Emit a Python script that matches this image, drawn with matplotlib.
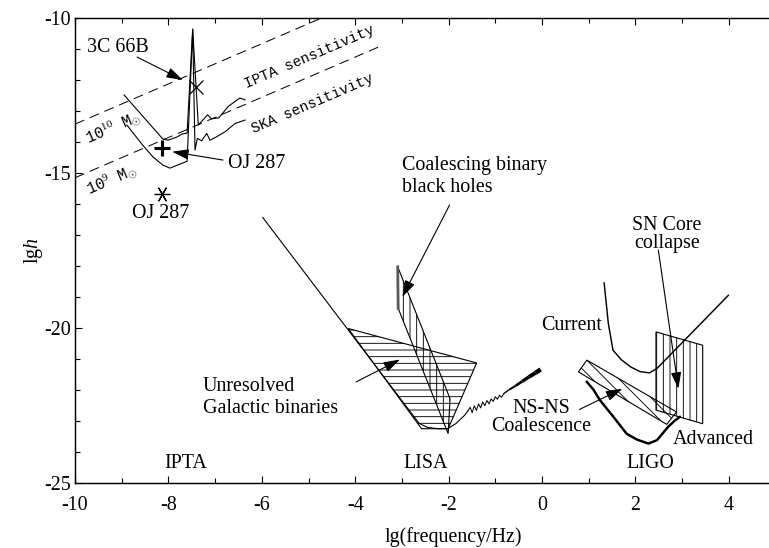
import matplotlib.pyplot as plt
from matplotlib.collections import LineCollection

plt.rcParams['font.family'] = ['Liberation Serif', 'DejaVu Serif']
plt.rcParams['mathtext.fontset'] = 'custom'
plt.rcParams['mathtext.rm'] = 'Liberation Serif'
plt.rcParams['mathtext.it'] = 'Liberation Serif:italic'
plt.rcParams['axes.unicode_minus'] = False
plt.rcParams['hatch.linewidth'] = 0.8

# ---- PTA band ----
pta_upper_x = [-8.95, -8.12, -8.01, -7.82, -7.71, -7.60, -7.48, -7.36, -7.16, -7.08, -6.92, -6.72, -6.47, -6.36]
pta_upper_y = [-12.48, -13.90, -13.94, -13.84, -13.74, -13.71, -10.36, -13.45, -13.12, -13.25, -13.22, -12.85, -12.58, -12.64]
pta_lower_x = [-8.89, -8.55, -8.33, -8.12, -7.97, -7.60, -7.48, -7.43, -7.38, -7.29, -7.18, -7.11, -6.97, -6.79, -6.57, -6.36]
pta_lower_y = [-13.45, -14.10, -14.48, -14.74, -14.84, -14.62, -10.36, -14.26, -13.88, -13.96, -13.72, -13.94, -13.83, -13.67, -13.40, -13.29]
ipta_sens_x = [-10.0, -4.72]
ipta_sens_y = [-13.42, -10.0]
ska_sens_x = [-10.0, -3.40]
ska_sens_y = [-15.15, -10.87]
src_3c66b = (-7.41, -12.22)
src_oj287_a = (-8.14, -14.20)
src_oj287_b = (-8.14, -15.66)

# ---- LISA band ----
lisa_x = [-5.98, -2.63, -2.45, -2.23, -2.02, -1.84, -1.66, -1.59]
lisa_y = [-16.43, -23.07, -23.20, -23.24, -23.24, -23.07, -22.81, -22.67]
chirp_x = [-1.59, -1.54, -1.495, -1.45, -1.405, -1.36, -1.315, -1.27, -1.225, -1.18, -1.135,
           -1.09, -1.045, -1.0, -0.955, -0.91, -0.865, -0.82]
chirp_y = [-22.67, -22.55, -22.72, -22.50, -22.65, -22.44, -22.57, -22.38, -22.50, -22.33, -22.44,
           -22.28, -22.36, -22.21, -22.29, -22.16, -22.23, -22.11]
chirp_end_x = [-0.82, -0.70, -0.56, -0.42, -0.28, -0.14, -0.03]
chirp_end_y = [-22.11, -21.98, -21.85, -21.71, -21.57, -21.44, -21.33]
galactic_x = [-4.15, -1.40, -2.01, -2.58]
galactic_y = [-20.01, -21.12, -23.24, -23.24]
smbh_x = [-3.09, -1.97, -2.01, -3.08]
smbh_y = [-18.02, -22.27, -23.40, -19.36]

# ---- LIGO band ----
ligo_now_x = [1.33, 1.42, 1.52, 1.70, 1.90, 2.10, 2.30, 2.46, 3.99]
ligo_now_y = [-18.54, -19.85, -20.71, -21.02, -21.25, -21.40, -21.44, -21.30, -18.94]
ligo_adv_x = [0.96, 1.10, 1.24, 1.53, 1.81, 2.03, 2.28, 2.46, 2.70, 2.85, 2.95]
ligo_adv_y = [-21.73, -21.98, -22.32, -22.86, -23.40, -23.59, -23.72, -23.61, -23.18, -22.97, -22.86]
nsns_x = [0.78, 0.96, 2.88, 2.67]
nsns_y = [-21.41, -21.03, -22.70, -23.10]
sn_x = [2.44, 3.44, 3.44, 2.44]
sn_y = [-20.12, -20.55, -23.08, -22.64]

fig = plt.figure(figsize=(769 / 80, 548 / 80), dpi=80)
ax = fig.add_axes([75 / 769, 64.7 / 548, 694 / 769, 465.3 / 548])

lw = 1.0
ax.plot(pta_upper_x, pta_upper_y, 'k-', lw=lw)
ax.plot(pta_lower_x, pta_lower_y, 'k-', lw=lw)
ax.plot(ipta_sens_x, ipta_sens_y, 'k', lw=0.9, dashes=(10, 6))
ax.plot(ska_sens_x, ska_sens_y, 'k', lw=0.9, dashes=(10, 6))
ax.plot(*src_3c66b, 'kx', ms=13, mew=1.1)
ax.plot(*src_oj287_a, 'k+', ms=14, mew=2.8)
ax.plot(*src_oj287_b, color='k', marker=(6, 2, 30), ms=14, mew=1.1, ls='none')

ax.fill(galactic_x, galactic_y, facecolor='none', edgecolor='k', lw=lw, hatch='--')
ax.fill(smbh_x, smbh_y, facecolor='none', edgecolor='k', lw=lw, hatch='||')
ax.plot([smbh_x[0], smbh_x[3]], [smbh_y[0], smbh_y[3]], color='0.35', lw=2.5)
ax.plot(lisa_x, lisa_y, 'k-', lw=lw)
ax.plot(chirp_x, chirp_y, 'k-', lw=0.9)
segs = [[(chirp_end_x[i], chirp_end_y[i]), (chirp_end_x[i + 1], chirp_end_y[i + 1])]
        for i in range(len(chirp_end_x) - 1)]
ax.add_collection(LineCollection(segs, colors='k', linewidths=[1.2, 1.8, 2.4, 3.0, 3.5, 4.0],
                                 capstyle='butt'))

ax.fill(nsns_x, nsns_y, facecolor='none', edgecolor='k', lw=lw, hatch='\\\\')
ax.fill(sn_x, sn_y, facecolor='none', edgecolor='k', lw=lw, hatch='||')
ax.plot(ligo_now_x, ligo_now_y, 'k-', lw=1.3)
ax.plot(ligo_adv_x, ligo_adv_y, 'k-', lw=2.2)

# labels and arrows
fs = 18
arr = dict(arrowstyle='-|>,head_length=0.7,head_width=0.22', color='k', lw=1.0,
           mutation_scale=18, shrinkA=0, shrinkB=0)
def arrow(x0, y0, x1, y1):
    ax.annotate('', xy=(x1, y1), xytext=(x0, y0), arrowprops=arr)

ax.text(-9.08, -10.94, '3C 66B', fontsize=fs, ha='center', va='center')
arrow(-8.67, -11.26, -7.69, -12.0)
ax.text(-6.10, -14.68, 'OJ 287', fontsize=fs, ha='center', va='center')
arrow(-6.83, -14.58, -7.92, -14.31)
ax.text(-8.16, -16.30, 'OJ 287', fontsize=fs, ha='center', va='center')

mono = ['Liberation Mono', 'DejaVu Sans Mono']
ax.text(-4.97, -11.25, 'IPTA sensitivity', fontsize=13, family=mono, rotation=23.3,
        ha='center', va='center')
ax.text(-4.92, -12.77, 'SKA sensitivity', fontsize=13, family=mono, rotation=23.3,
        ha='center', va='center')
ax.text(-9.19, -13.52, r'10$^{10}$ M$_{\odot}$', fontsize=14, family=mono, rotation=23.3,
        ha='center', va='center')
ax.text(-9.21, -15.19, r'10$^{9}$ M$_{\odot}$', fontsize=14, family=mono, rotation=23.3,
        ha='center', va='center')

ax.text(-3.0, -14.74, 'Coalescing binary', fontsize=fs, ha='left', va='center')
ax.text(-3.0, -15.48, 'black holes', fontsize=fs, ha='left', va='center')
arrow(-1.98, -16.03, -2.99, -18.99)
ax.text(-7.26, -21.89, 'Unresolved', fontsize=fs, ha='left', va='center')
ax.text(-7.26, -22.59, 'Galactic binaries', fontsize=fs, ha='left', va='center')
arrow(-3.98, -21.73, -3.04, -21.01)

ax.text(-0.02, -22.58, 'NS-NS', fontsize=fs, ha='center', va='center')
ax.text(-0.02, -23.18, 'Coalescence', fontsize=fs, ha='center', va='center')
arrow(0.80, -22.62, 1.72, -21.95)
ax.text(0.64, -19.90, 'Current', fontsize=fs, ha='center', va='center')
ax.text(2.67, -16.68, 'SN Core', fontsize=fs, ha='center', va='center')
ax.text(2.67, -17.27, 'collapse', fontsize=fs, ha='center', va='center')
arrow(2.49, -17.48, 2.92, -21.95)
ax.text(3.67, -23.59, 'Advanced', fontsize=fs, ha='center', va='center')

for name, x in zip(['IPTA', 'LISA', 'LIGO'], [-7.62, -2.49, 2.32]):
    ax.text(x, -24.35, name, fontsize=fs, ha='center', va='center')

ax.set_xlim(-10, 4.86)
ax.set_ylim(-25, -10)
ax.set_xticks(range(-10, 5, 2))
ax.set_xticks(range(-10, 5), minor=True)
ax.set_yticks(range(-25, -9, 5))
ax.set_yticks(range(-25, -9), minor=True)
ax.tick_params(which='both', direction='in', top=True, right=False, labelsize=18, width=1)
ax.tick_params(which='major', length=6.3)
ax.tick_params(which='minor', length=4.5)
ax.tick_params(axis='x', which='both', pad=11)
ax.spines['right'].set_visible(False)
for s in ['left', 'bottom', 'top']:
    ax.spines[s].set_linewidth(1.3)

ax.set_xlabel('lg(frequency/Hz)', fontsize=18)
ax.xaxis.set_label_coords(0.545, -0.115)
ax.xaxis.label.set_va('center')
ax.set_ylabel(r'lg$h$', fontsize=18)
ax.yaxis.set_label_coords(-0.06, 0.5)
ax.yaxis.label.set_va('center')

fig.savefig('out.png', dpi=80)
